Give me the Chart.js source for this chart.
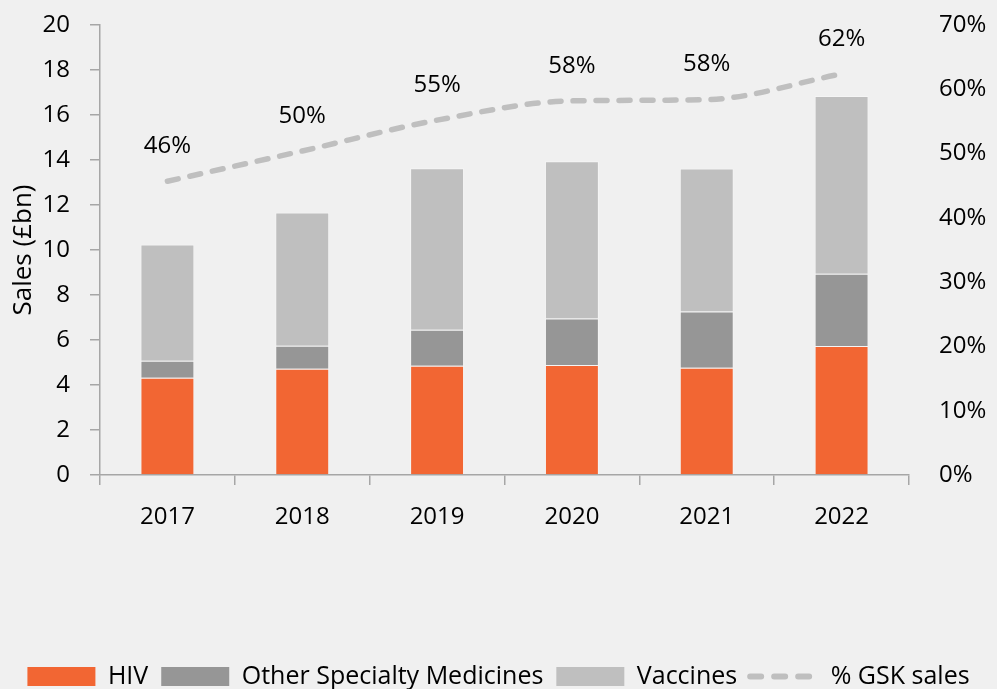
<!DOCTYPE html>
<html>
<head>
<meta charset="utf-8">
<script src="https://cdn.jsdelivr.net/npm/chart.js@4"></script>
<style>
html,body{margin:0;padding:0;background:#F0F0F0;}
#wrap{width:997px;height:689px;position:relative;}
</style>
</head>
<body>
<div id="wrap"><canvas id="c" width="997" height="689"></canvas></div>
<script>
const years = ['2017','2018','2019','2020','2021','2022'];
const hiv = [4.32, 4.72, 4.86, 4.89, 4.77, 5.73];
const otherSpecialty = [0.76, 1.03, 1.60, 2.07, 2.50, 3.21];
const vaccines = [5.17, 5.92, 7.17, 6.98, 6.35, 7.90];
const gskShare = [45.7, 50.4, 55.2, 58.2, 58.4, 62.4];
const leftTicks = [0, 20, 2];
const rightTicks = [0, 70, 10];

const FONT = '"Open Sans", "Liberation Sans", sans-serif';
const AXIS = '#A6A6A6';

const pctLabels = {
  id: 'pctLabels',
  afterDatasetsDraw(chart) {
    const meta = chart.getDatasetMeta(3);
    const ctx = chart.ctx;
    ctx.save();
    ctx.font = '24px ' + FONT;
    ctx.fillStyle = '#000';
    ctx.textAlign = 'center';
    ctx.textBaseline = 'middle';
    meta.data.forEach((pt, i) => {
      ctx.fillText(Math.round(gskShare[i]) + '%', pt.x, pt.y - 35);
    });
    ctx.restore();
  }
};

function noPad(s) { s.paddingTop = 0; s.paddingBottom = 0; }

new Chart(document.getElementById('c'), {
  type: 'bar',
  data: {
    labels: years,
    datasets: [
      {label: 'HIV', data: hiv, backgroundColor: '#F26633', borderColor: 'rgba(255,255,255,0.35)', borderWidth: 1, yAxisID: 'y', order: 2},
      {label: 'Other Specialty Medicines', data: otherSpecialty, backgroundColor: '#969696', borderColor: 'rgba(255,255,255,0.35)', borderWidth: 1, yAxisID: 'y', order: 2},
      {label: 'Vaccines', data: vaccines, backgroundColor: '#BFBFBF', borderColor: 'rgba(255,255,255,0.35)', borderWidth: 1, yAxisID: 'y', order: 2},
      {type: 'line', label: '% GSK sales', data: gskShare, yAxisID: 'y1', borderColor: '#BFBFBF', backgroundColor: '#BFBFBF',
       borderWidth: 5.5, borderDash: [11, 12], borderCapStyle: 'round', tension: 0.4, cubicInterpolationMode: 'monotone',
       pointRadius: 0, pointHoverRadius: 0, fill: false, order: 1}
    ]
  },
  options: {
    responsive: false,
    animation: false,
    layout: {padding: {top: 25, bottom: -10, left: 0, right: 0}},
    datasets: {bar: {categoryPercentage: 1, barPercentage: 0.4}},
    plugins: {
      tooltip: {enabled: false},
      legend: {
        position: 'bottom',
        labels: {
          font: {family: FONT, size: 25},
          color: '#000',
          usePointStyle: true,
          pointStyleWidth: 68,
          boxHeight: 19,
          padding: 13,
          generateLabels(chart) {
            return chart.data.datasets.map((ds, i) => {
              const isLine = ds.type === 'line';
              return {
                text: ds.label,
                datasetIndex: i,
                fillStyle: ds.backgroundColor,
                strokeStyle: isLine ? ds.borderColor : ds.backgroundColor,
                lineWidth: isLine ? 6 : 0,
                lineDash: isLine ? [11, 13] : [],
                lineCap: 'round',
                pointStyle: isLine ? 'line' : 'rect',
                fontColor: '#000',
                hidden: false
              };
            });
          }
        }
      }
    },
    scales: {
      x: {
        stacked: true,
        offset: true,
        grid: {display: true, drawOnChartArea: false, drawTicks: true, tickLength: 10, color: AXIS, offset: true, lineWidth: 1.5},
        border: {display: true, color: AXIS, width: 1.5},
        ticks: {font: {family: FONT, size: 24}, color: '#000', padding: 18},
        afterFit(s) { s.height = 176; }
      },
      y: {
        stacked: true,
        position: 'left',
        min: leftTicks[0], max: leftTicks[1],
        ticks: {stepSize: leftTicks[2], font: {family: FONT, size: 24}, color: '#000', padding: 20},
        grid: {display: true, drawOnChartArea: false, drawTicks: true, tickLength: 10, color: AXIS, lineWidth: 1.5},
        border: {display: true, color: AXIS, width: 1.5},
        title: {display: true, text: 'Sales (£bn)', font: {family: FONT, size: 26}, color: '#000', padding: {top: 8, bottom: 0}},
        afterFit(s) { s.width = 100; noPad(s); }
      },
      y1: {
        position: 'right',
        min: rightTicks[0], max: rightTicks[1],
        ticks: {stepSize: rightTicks[2], font: {family: FONT, size: 24}, color: '#000', padding: 30, callback: v => v + '%'},
        grid: {display: false, drawTicks: false},
        border: {display: false},
        afterFit(s) { s.width = 88; noPad(s); }
      }
    }
  },
  plugins: [pctLabels]
});
</script>
</body>
</html>
